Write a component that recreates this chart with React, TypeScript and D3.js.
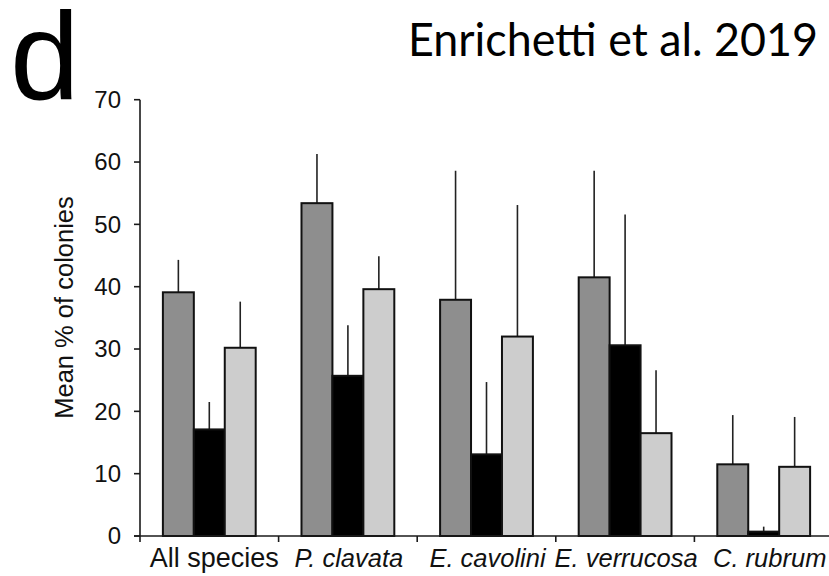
import React from "react";
import * as d3 from "d3";

const categories = ["All species", "P. clavata", "E. cavolini", "E. verrucosa", "C. rubrum"];
const italicCats = [false, true, true, true, true];
const seriesNames = ["s1", "s2", "s3"];
const seriesColors = ["#8e8e8e", "#000000", "#cdcdcd"];
const meanS1 = [39.1, 53.4, 37.9, 41.5, 11.5];
const meanS2 = [17.1, 25.7, 13.1, 30.6, 0.7];
const meanS3 = [30.2, 39.6, 32.0, 16.5, 11.1];
const errTopS1 = [44.3, 61.3, 58.6, 58.6, 19.4];
const errTopS2 = [21.5, 33.8, 24.7, 51.6, 1.5];
const errTopS3 = [37.6, 44.9, 53.1, 26.6, 19.1];
const yTicks = [0, 10, 20, 30, 40, 50, 60, 70];

const W = 829;
const H = 576;

export default function App() {
  const x0 = d3.scaleBand<string>().domain(categories).range([140, 140 + 5 * 138.6]).padding(0);
  const x1 = d3
    .scaleBand<string>()
    .domain(seriesNames)
    .range([0, x0.bandwidth()])
    .paddingInner(0)
    .paddingOuter(0.74);
  const y = d3.scaleLinear().domain([0, 70]).range([536, 99.7]);

  const means = [meanS1, meanS2, meanS3];
  const errs = [errTopS1, errTopS2, errTopS3];
  const axisColor = "#1a1a1a";
  const font = "'Liberation Sans', Arial, sans-serif";

  return (
    <svg
      width={W}
      height={H}
      style={{ position: "absolute", left: 0, top: 0, background: "#fff" }}
    >
      <rect x={0} y={0} width={W} height={H} fill="#fff" />
      <text x={10} y={99} fontFamily={font} fontSize={125} fill="#000">
        d
      </text>
      <text
        x={408}
        y={56}
        fontFamily="Lato, 'Open Sans', sans-serif"
        fontSize={46}
        fill="#000"
        textLength={410}
        lengthAdjust="spacingAndGlyphs"
      >
        Enrichetti et al. 2019
      </text>

      {/* bars */}
      {categories.map((c, ci) =>
        seriesNames.map((s, si) => {
          const bx = (x0(c) as number) + (x1(s) as number);
          const bw = x1.bandwidth();
          const v = means[si][ci];
          const e = errs[si][ci];
          return (
            <g key={c + s}>
              <line
                x1={bx + bw / 2}
                x2={bx + bw / 2}
                y1={y(v)}
                y2={y(e)}
                stroke="#222"
                strokeWidth={1.6}
              />
              <rect
                x={bx}
                y={y(v)}
                width={bw}
                height={y(0) - y(v)}
                fill={seriesColors[si]}
                stroke="#111"
                strokeWidth={2}
              />
            </g>
          );
        })
      )}

      {/* y axis */}
      <line x1={140} x2={140} y1={y(70)} y2={y(0)} stroke={axisColor} strokeWidth={1.6} />
      {yTicks.map((t) => (
        <g key={t}>
          <line x1={134} x2={140} y1={y(t)} y2={y(t)} stroke={axisColor} strokeWidth={1.6} />
          <text
            x={121}
            y={y(t)}
            dy="0.35em"
            textAnchor="end"
            fontFamily={font}
            fontSize={24}
            fill="#111"
          >
            {t}
          </text>
        </g>
      ))}
      <text
        transform={`translate(73,307.5) rotate(-90)`}
        textAnchor="middle"
        fontFamily={font}
        fontSize={25.5}
        fill="#111"
      >
        Mean % of colonies
      </text>

      {/* x axis */}
      <line x1={134} x2={W} y1={y(0)} y2={y(0)} stroke={axisColor} strokeWidth={1.6} />
      {categories.map((c) => (
        <line
          key={c}
          x1={x0(c) as number}
          x2={x0(c) as number}
          y1={y(0)}
          y2={y(0) + 6}
          stroke={axisColor}
          strokeWidth={1.6}
        />
      ))}
      {categories.map((c, ci) => (
        <text
          key={c}
          x={(x0(c) as number) + x0.bandwidth() / 2 + (ci === 0 ? 5 : ci === 4 ? 6 : 1)}
          y={567}
          textAnchor="middle"
          fontFamily={font}
          fontStyle={italicCats[ci] ? "italic" : "normal"}
          fontSize={italicCats[ci] ? 25.5 : 27}
          fill="#111"
        >
          {c}
        </text>
      ))}
    </svg>
  );
}
